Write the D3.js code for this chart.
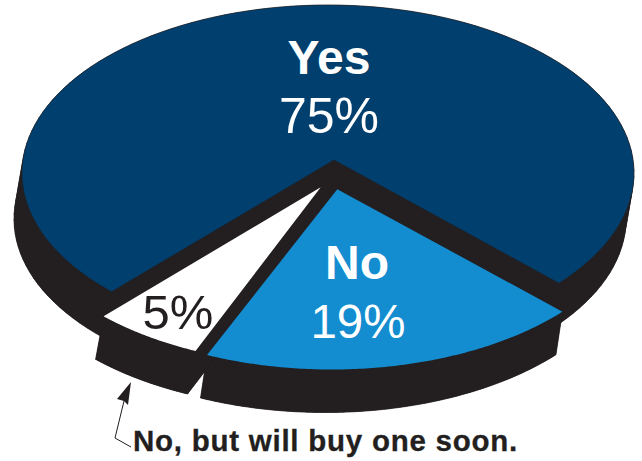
<!DOCTYPE html>
<html><head><meta charset="utf-8">
<script src="https://cdnjs.cloudflare.com/ajax/libs/d3/7.8.5/d3.min.js"></script>
<style>html,body{margin:0;padding:0;background:#fff}svg{display:block}text{font-family:"Liberation Sans",Arial,sans-serif}</style>
</head><body><svg id="c" width="642" height="461"></svg>
<script>
const categories = ["Yes", "No", "No, but will buy one soon."];
const values = [75, 19, 5];
const valueLabels = ["75%", "19%", "5%"];

// Layout, kept apart from the data
const W = 642, H = 461, RX = 306, RY = 168;
const COLORS = ["#003f6e", "#138cd0", "#ffffff"];
const DARK = "#231f20";
const CENTERS = [[328,173],[331.5,201.5],[320,197.5]];
const APEX = [[6,-13],[5.8,-12.2],[0.7,-10.2]];
const DEPTH = [[-8,46],[-6.5,43],[-8,43]];

const svg = d3.select("#c");
const cum = [0, ...d3.cumsum(values)];
// the drawing is foreshortened, so share of the pie maps to rim angle piecewise
const angle = d3.scaleLinear().domain(cum).range([-135,131,204,225].map(d=>d*Math.PI/180));
const x = d3.scaleLinear().domain([-1,1]).range([-RX,RX]);
const y = d3.scaleLinear().domain([-1,1]).range([-RY,RY]);

const slices = values.map((v,i)=>{
  const steps = d3.range(0, 121).map(k=>cum[i] + v*k/120);
  const [cx,cy] = CENTERS[i];
  const rim = steps.map(s=>{const a=angle(s);return [cx+x(Math.sin(a)), cy+y(-Math.cos(a))];});
  const apex = [cx+APEX[i][0], cy+APEX[i][1]];
  return {i, pts:[apex, ...rim]};
});
const line = d3.line();
const closed = p => line(p)+"Z";

// side walls: one quad per boundary segment, plus the shifted base
slices.forEach(s=>{
  const [dx,dy] = DEPTH[s.i];
  const quads = s.pts.map((p,k)=>{
    const q = s.pts[(k+1)%s.pts.length];
    return [p,q,[q[0]+dx,q[1]+dy],[p[0]+dx,p[1]+dy]];
  });
  const g = svg.append("g").attr("fill",DARK).attr("stroke",DARK).attr("stroke-width",0.4);
  g.selectAll("path").data(quads).join("path").attr("d",closed);
  g.append("path").attr("d",closed(s.pts.map(p=>[p[0]+dx,p[1]+dy])));
});
// dark hub where the three walls meet under the apexes
const hubPts = slices.flatMap(s=>[s.pts[0],[s.pts[0][0]+DEPTH[s.i][0],s.pts[0][1]+DEPTH[s.i][1]]]);
svg.append("path").attr("d",closed(d3.polygonHull(hubPts))).attr("fill",DARK);

// top faces
svg.append("g").selectAll("path").data(slices).join("path")
  .attr("d",s=>closed(s.pts)).attr("fill",s=>COLORS[s.i])
  .attr("stroke",s=>s.i==0?DARK:"none").attr("stroke-width",0.5);

// labels
function label(t,xp,yp,size,weight,fill){
  return svg.append("text").attr("x",xp).attr("y",yp).attr("text-anchor","middle")
    .attr("font-size",size).attr("font-weight",weight).attr("fill",fill).text(t);
}
label(categories[0],329,74,48,"bold","#fff");
label(valueLabels[0],329,133,50,"normal","#fff");
label(categories[1],357,279,48,"bold","#fff");
label(valueLabels[1],358,338,47.5,"normal","#fff");
label(valueLabels[2],178,329,49,"normal",DARK);
svg.append("text").attr("x",133).attr("y",451).attr("font-size",29.5).attr("font-weight","bold")
  .attr("letter-spacing",0.75).attr("stroke",DARK).attr("stroke-width",0.3).attr("fill",DARK).text(categories[2]);

// leader + arrow
svg.append("path").attr("d",line([[131,447],[115,438],[124,401]])).attr("fill","none").attr("stroke",DARK).attr("stroke-width",1);
svg.append("path").attr("d",line([[131,382],[117,399],[124,401],[128,405]])+"Z").attr("fill",DARK);
</script></body></html>
